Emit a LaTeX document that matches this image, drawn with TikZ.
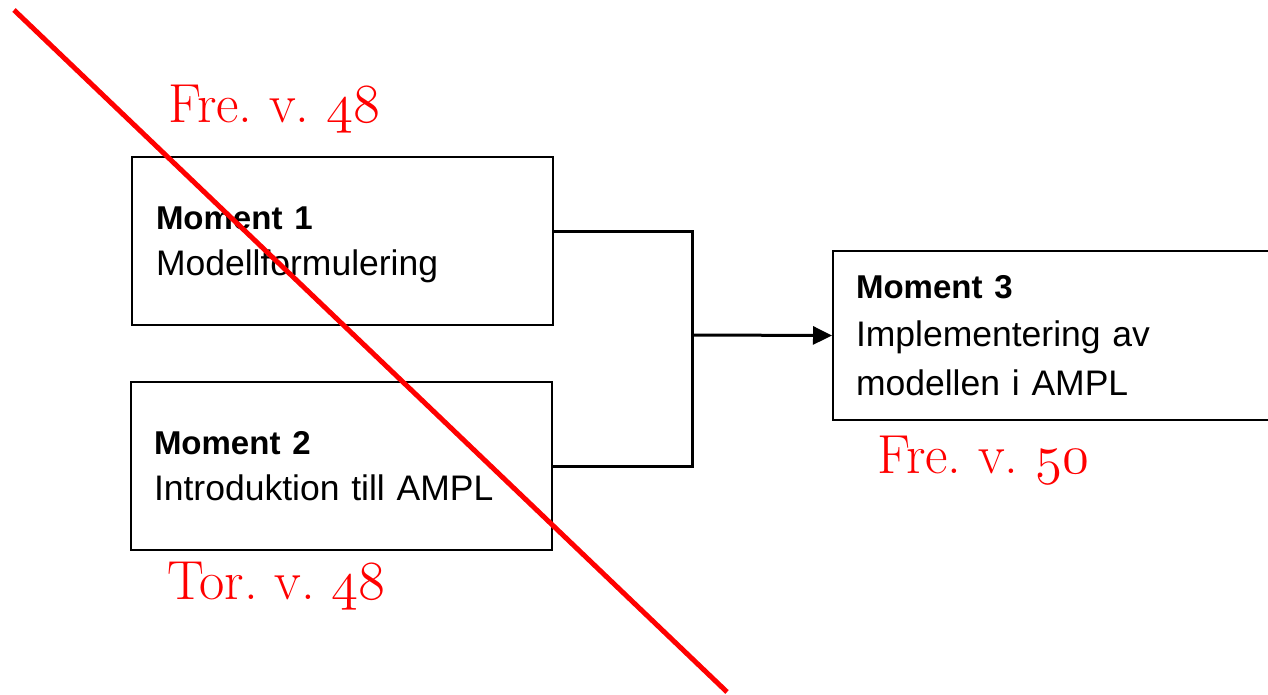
\RequirePackage{fix-cm}
\documentclass[tikz,border=0pt]{standalone}
\usepackage{fontspec}
\newfontfamily\boxfont{Liberation Sans}
\usetikzlibrary{arrows.meta}
\newcommand\oldnum[1]{{\usefont{OML}{cmm}{m}{it}#1}}
\frenchspacing
\begin{document}
\begin{tikzpicture}[x=1pt,y=-1pt,
  box/.style={draw, line width=2pt, inner xsep=0pt, inner ysep=0pt, align=left,
    font=\boxfont\fontsize{35.5}{46}\selectfont},
  conn/.style={line width=3pt},
  datum/.style={text=red, inner sep=0pt, anchor=base west, font=\fontsize{55}{62}\selectfont}]
\fill[white] (0,0) rectangle (1268,695);
\useasboundingbox (0,0) rectangle (1268,695);
\node[box, minimum width=421, minimum height=168, text width=373] (m1) at (342.5,241)
  {{\fontsize{33}{46}\selectfont\bfseries Moment 1}\\\raisebox{0pt}[\height][0pt]{Modellformulering}};
\node[box, minimum width=421, minimum height=168, text width=375] (m2) at (341.5,466)
  {{\fontsize{33}{46}\selectfont\bfseries Moment 2}\\Introduktion till AMPL};
\node[box, minimum width=460, minimum height=169, text width=414,
  font=\boxfont\fontsize{35.5}{48.5}\selectfont] (m3) at (1063,335.5)
  {{\fontsize{33}{48.5}\selectfont\bfseries Moment 3}\\Implementering av\\modellen i AMPL};
\coordinate (j) at (692,335);
\draw[conn] ([yshift=10pt]m1.east) -| (j) |- (m2.east);
\draw[conn, -{Triangle[length=19pt,width=18pt]}] (j) -- (m3.west);
\draw[red, line width=5pt] (14,10) -- (727,692);
\node[datum] (fre1) at (168,123) {Fre. v. \oldnum{48}};
\node[datum] (tor) at (167,599) {Tor. v. \oldnum{48}};
\node[datum] (fre2) at (877,473) {Fre. v. \oldnum{50}};
\end{tikzpicture}
\end{document}
